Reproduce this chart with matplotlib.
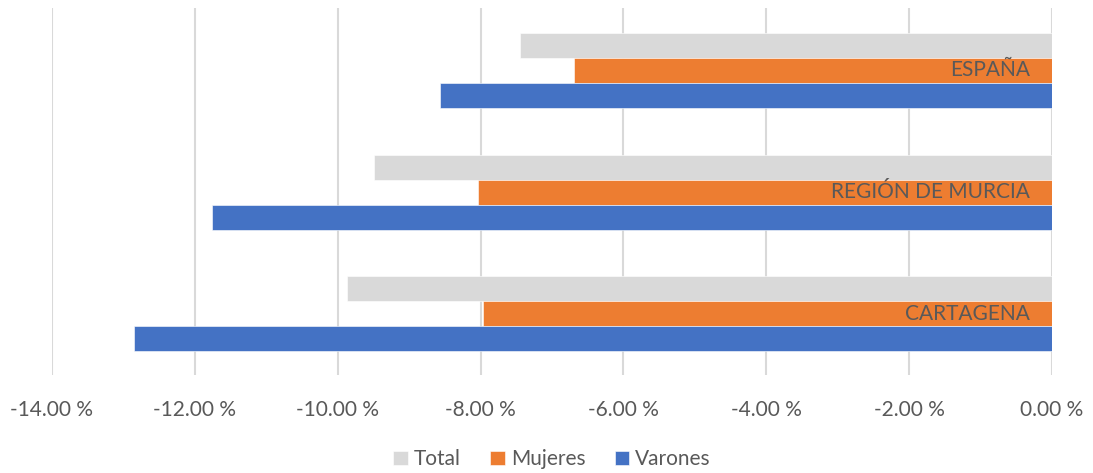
import numpy as np
import matplotlib.pyplot as plt
from matplotlib.ticker import FuncFormatter

plt.rcParams['font.family'] = ['Lato', 'DejaVu Sans']

regions = ['ESPAÑA', 'REGIÓN DE MURCIA', 'CARTAGENA']
total = [-7.45, -9.49, -9.87]
mujeres = [-6.69, -8.04, -7.97]
varones = [-8.57, -11.76, -12.85]

series = [('Total', total, '#d9d9d9'),
          ('Mujeres', mujeres, '#ed7d31'),
          ('Varones', varones, '#4472c4')]

fig = plt.figure(figsize=(10.93, 4.73), dpi=100)
ax = fig.add_axes([52 / 1093, 1 - 375 / 473, 1000 / 1093, 367 / 473])

centers = np.arange(len(regions)) * 4.86
for k, (name, vals, color) in enumerate(series):
    ax.barh(centers + (k - 1), vals, height=1.0, color=color,
            edgecolor='white', linewidth=0.4, label=name, zorder=3)

for c, name in zip(centers, regions):
    ax.annotate(name, xy=(0, c), xytext=(-16, 0), textcoords='offset points',
                ha='right', va='center', fontsize=15, color='#595959', zorder=4)

ax.set_xlim(-14, 0)
ax.set_ylim(12.18, -2.5)
ax.set_xticks(np.arange(-14, 1, 2))
ax.xaxis.set_major_formatter(FuncFormatter(lambda v, p: '{:.2f} %'.format(v)))
ax.set_yticks([])
ax.grid(axis='x', color='#d9d9d9', linewidth=1.5, zorder=0)
for s in ax.spines.values():
    s.set_visible(False)
ax.tick_params(axis='x', length=0, pad=18, labelsize=15, labelcolor='#595959')

ax.legend(loc='center', bbox_to_anchor=(0.5, -0.23), ncol=3,
          frameon=False, fontsize=15, labelcolor='#595959',
          handlelength=0.7, handleheight=0.7, handletextpad=0.3,
          columnspacing=1.4)

fig.savefig('out.png', dpi=100)
